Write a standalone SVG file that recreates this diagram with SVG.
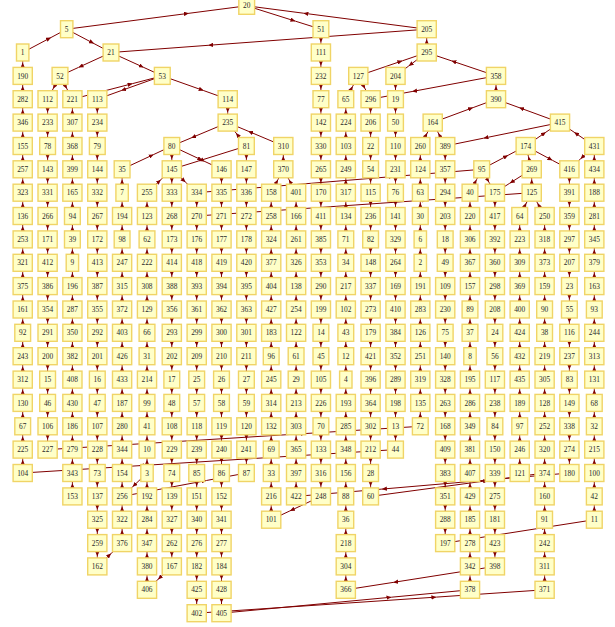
<svg xmlns="http://www.w3.org/2000/svg" width="615" height="627" viewBox="0 0 615 627">
<style>
.e path{fill:none;stroke:#800000;stroke-width:1;marker-mid:url(#ah)}
.n text{font-family:"Liberation Serif","Times New Roman",serif;font-size:7.4px;text-anchor:middle;fill:#2a2a2a}
</style>
<defs>
<marker id="ah" viewBox="0 0 5 4.4" refX="5" refY="2.2" markerWidth="5" markerHeight="4.4" markerUnits="userSpaceOnUse" orient="auto"><path d="M0,0L5,2.2L0,4.4z" fill="#800000"/></marker>
<rect id="b1" x="-6.2" y="-8.5" width="12.4" height="17" fill="#ffffc8" stroke="#f0d466" stroke-width="1.4"/>
<rect id="b2" x="-7.9" y="-8.5" width="15.8" height="17" fill="#ffffc8" stroke="#f0d466" stroke-width="1.4"/>
<rect id="b3" x="-9.6" y="-8.5" width="19.2" height="17" fill="#ffffc8" stroke="#f0d466" stroke-width="1.4"/>
</defs>
<rect width="615" height="627" fill="#fff"/>
<g id="edges" class="e">
<path d="M22.7,52.5L51,37.5L66.7,29.2"/>
<path d="M66.7,29.2L188.9,13.3L246.7,5.8"/>
<path d="M426.7,29.2L303.4,13.2L246.7,5.8"/>
<path d="M246.7,5.8L295.5,21.2L320.9,29.2"/>
<path d="M66.7,29.2L94,43.6L111,52.5"/>
<path d="M426.7,29.2L208.2,45.3L111,52.5"/>
<path d="M426.7,52.5v-13.2v-10.1"/>
<path d="M358.3,75.9L402.4,60.8L426.7,52.5"/>
<path d="M426.7,52.5L408.7,66L395.5,75.9"/>
<path d="M496,75.9L451.4,60.8L426.7,52.5"/>
<path d="M496,75.9L412.1,91.5L370.6,99.2"/>
<path d="M111,52.5L78.5,67.4L60,75.9"/>
<path d="M111,52.5L143.7,67.4L162.3,75.9"/>
<path d="M60,75.9L53.1,88.8L47.6,99.2"/>
<path d="M60,75.9L66.9,88.8L72.4,99.2"/>
<path d="M72.4,99.2L132.6,83.6L162.3,75.9"/>
<path d="M162.3,75.9L121.2,90.6L97.3,99.2"/>
<path d="M162.3,75.9L203.7,90.6L227.7,99.2"/>
<path d="M345.8,99.2L352.7,86.3L358.3,75.9"/>
<path d="M358.3,75.9L365.1,88.8L370.6,99.2"/>
<path d="M496,99.2v-13.2v-10.1"/>
<path d="M432.7,122.6L473.1,107.6L496,99.2"/>
<path d="M560,122.6L519.1,107.6L496,99.2"/>
<path d="M227.7,99.2v13.2v10.2"/>
<path d="M227.7,122.6L191.2,137.9L171.8,146"/>
<path d="M246.4,146L236,133L227.7,122.6"/>
<path d="M283.3,146L248.2,131.2L227.7,122.6"/>
<path d="M420.3,146L427.2,133L432.7,122.6"/>
<path d="M445.2,146L438.3,133L432.7,122.6"/>
<path d="M525.7,146L545.9,132.2L560,122.6"/>
<path d="M594.3,146L574.1,132.2L560,122.6"/>
<path d="M560,122.6L483.5,138.2L445.2,146"/>
<path d="M122.1,169.3L153.7,154.5L171.8,146"/>
<path d="M171.8,146L202.3,160.3L221.5,169.3"/>
<path d="M481.7,169.3L508.1,155.3L525.7,146"/>
<path d="M531.7,169.3L528.4,156.4L525.7,146"/>
<path d="M525.7,146L552.4,160.3L569.4,169.3"/>
<path d="M594.3,146L580.5,158.9L569.4,169.3"/>
<path d="M531.7,169.3L509.8,183.2L494.9,192.7"/>
<path d="M531.7,192.7v-13.2v-10.2"/>
<path d="M470,192.7L476.5,179.7L481.7,169.3"/>
<path d="M481.7,169.3L489,182.3L494.9,192.7"/>
<path d="M519.7,216L526.3,203.1L531.7,192.7"/>
<path d="M544.6,216L537.5,203.1L531.7,192.7"/>
<path d="M147,192.7L160.8,179.7L171.8,169.3"/>
<path d="M171.8,169.3L185.6,182.3L196.7,192.7"/>
<path d="M296.1,192.7L289,179.7L283.3,169.3"/>
<path d="M271.2,192.7L277.9,179.7L283.3,169.3"/>
<path d="M283.3,169.3v-13.2v-10.1"/>
<path d="M246.4,146L198.5,161L171.8,169.3"/>
<path d="M196.7,192.7L393.6,176.5L481.7,169.3"/>
<path d="M196.7,216L427.2,200L531.7,192.7"/>
<path d="M47.6,449.6L305.9,433.5L420.3,426.3"/>
<path d="M395.5,449.6L139,465.7L22.7,473"/>
<path d="M122.1,496.4L206.4,480.5L246.4,473"/>
<path d="M147,473L132.6,486.8L122.1,496.4"/>
<path d="M97.3,566.4L111.1,553.5L122.1,543.1"/>
<path d="M171.8,566.4L158,579.4L147,589.8"/>
<path d="M320.9,496.4L289.9,510.9L271.2,519.7"/>
<path d="M370.6,496.4L488.1,480.6L544.6,473"/>
<path d="M569.4,473L381.9,489.1L296.1,496.4"/>
<path d="M445.2,543.1L546.9,527.1L594.3,519.7"/>
<path d="M494.9,566.4L393.2,582.4L345.8,589.8"/>
<path d="M221.5,613.2L391.5,597.2L470,589.8"/>
<path d="M196.7,613.2L436.4,597.1L544.6,589.8"/>
<path d="M22.7,75.9v-13.2v-10.2"/><path d="M22.7,99.2v-13.2v-10.2"/><path d="M22.7,122.6v-13.2v-10.2"/><path d="M22.7,146v-13.2v-10.2"/><path d="M22.7,169.3v-13.2v-10.2"/><path d="M22.7,192.7v-13.2v-10.2"/><path d="M22.7,216v-13.2v-10.2"/><path d="M22.7,239.4v-13.2v-10.2"/><path d="M22.7,262.8v-13.2v-10.2"/><path d="M22.7,286.1v-13.2v-10.2"/><path d="M22.7,309.5v-13.2v-10.2"/><path d="M22.7,332.8v-13.2v-10.2"/><path d="M22.7,356.2v-13.2v-10.2"/><path d="M22.7,379.6v-13.2v-10.2"/><path d="M22.7,402.9v-13.2v-10.2"/><path d="M22.7,426.3v-13.2v-10.2"/><path d="M22.7,449.6v-13.2v-10.2"/><path d="M22.7,473v-13.2v-10.2"/>
<path d="M47.6,99.2v13.2v10.2"/><path d="M47.6,122.6v13.2v10.2"/><path d="M47.6,146v13.2v10.2"/><path d="M47.6,169.3v13.2v10.2"/><path d="M47.6,192.7v13.2v10.2"/><path d="M47.6,216v13.2v10.2"/><path d="M47.6,239.4v13.2v10.2"/><path d="M47.6,262.8v13.2v10.2"/><path d="M47.6,286.1v13.2v10.2"/><path d="M47.6,309.5v13.2v10.2"/><path d="M47.6,332.8v13.2v10.2"/><path d="M47.6,356.2v13.2v10.2"/><path d="M47.6,379.6v13.2v10.2"/><path d="M47.6,402.9v13.2v10.2"/><path d="M47.6,426.3v13.2v10.2"/>
<path d="M72.4,122.6v-13.2v-10.2"/><path d="M72.4,146v-13.2v-10.2"/><path d="M72.4,169.3v-13.2v-10.2"/><path d="M72.4,192.7v-13.2v-10.2"/><path d="M72.4,216v-13.2v-10.2"/><path d="M72.4,239.4v-13.2v-10.2"/><path d="M72.4,262.8v-13.2v-10.2"/><path d="M72.4,286.1v-13.2v-10.2"/><path d="M72.4,309.5v-13.2v-10.2"/><path d="M72.4,332.8v-13.2v-10.2"/><path d="M72.4,356.2v-13.2v-10.2"/><path d="M72.4,379.6v-13.2v-10.2"/><path d="M72.4,402.9v-13.2v-10.2"/><path d="M72.4,426.3v-13.2v-10.2"/><path d="M72.4,449.6v-13.2v-10.2"/><path d="M72.4,473v-13.2v-10.2"/><path d="M72.4,496.4v-13.2v-10.2"/>
<path d="M97.3,99.2v13.2v10.2"/><path d="M97.3,122.6v13.2v10.2"/><path d="M97.3,146v13.2v10.2"/><path d="M97.3,169.3v13.2v10.2"/><path d="M97.3,192.7v13.2v10.2"/><path d="M97.3,216v13.2v10.2"/><path d="M97.3,239.4v13.2v10.2"/><path d="M97.3,262.8v13.2v10.2"/><path d="M97.3,286.1v13.2v10.2"/><path d="M97.3,309.5v13.2v10.2"/><path d="M97.3,332.8v13.2v10.2"/><path d="M97.3,356.2v13.2v10.2"/><path d="M97.3,379.6v13.2v10.2"/><path d="M97.3,402.9v13.2v10.2"/><path d="M97.3,426.3v13.2v10.2"/><path d="M97.3,449.6v13.2v10.2"/><path d="M97.3,473v13.2v10.2"/><path d="M97.3,496.4v13.2v10.2"/><path d="M97.3,519.7v13.2v10.2"/><path d="M97.3,543.1v13.2v10.2"/>
<path d="M122.1,192.7v-13.2v-10.2"/><path d="M122.1,216v-13.2v-10.2"/><path d="M122.1,239.4v-13.2v-10.2"/><path d="M122.1,262.8v-13.2v-10.2"/><path d="M122.1,286.1v-13.2v-10.2"/><path d="M122.1,309.5v-13.2v-10.2"/><path d="M122.1,332.8v-13.2v-10.2"/><path d="M122.1,356.2v-13.2v-10.2"/><path d="M122.1,379.6v-13.2v-10.2"/><path d="M122.1,402.9v-13.2v-10.2"/><path d="M122.1,426.3v-13.2v-10.2"/><path d="M122.1,449.6v-13.2v-10.2"/><path d="M122.1,473v-13.2v-10.2"/><path d="M122.1,496.4v-13.2v-10.2"/><path d="M122.1,519.7v-13.2v-10.2"/><path d="M122.1,543.1v-13.2v-10.2"/>
<path d="M147,216v-13.2v-10.2"/><path d="M147,239.4v-13.2v-10.2"/><path d="M147,262.8v-13.2v-10.2"/><path d="M147,286.1v-13.2v-10.2"/><path d="M147,309.5v-13.2v-10.2"/><path d="M147,332.8v-13.2v-10.2"/><path d="M147,356.2v-13.2v-10.2"/><path d="M147,379.6v-13.2v-10.2"/><path d="M147,402.9v-13.2v-10.2"/><path d="M147,426.3v-13.2v-10.2"/><path d="M147,449.6v-13.2v-10.2"/><path d="M147,473v-13.2v-10.2"/><path d="M147,496.4v-13.2v-10.2"/><path d="M147,519.7v-13.2v-10.2"/><path d="M147,543.1v-13.2v-10.2"/><path d="M147,566.4v-13.2v-10.2"/><path d="M147,589.8v-13.2v-10.2"/>
<path d="M171.8,146v13.2v10.2"/><path d="M171.8,169.3v13.2v10.2"/><path d="M171.8,192.7v13.2v10.2"/><path d="M171.8,216v13.2v10.2"/><path d="M171.8,239.4v13.2v10.2"/><path d="M171.8,262.8v13.2v10.2"/><path d="M171.8,286.1v13.2v10.2"/><path d="M171.8,309.5v13.2v10.2"/><path d="M171.8,332.8v13.2v10.2"/><path d="M171.8,356.2v13.2v10.2"/><path d="M171.8,379.6v13.2v10.2"/><path d="M171.8,402.9v13.2v10.2"/><path d="M171.8,426.3v13.2v10.2"/><path d="M171.8,449.6v13.2v10.2"/><path d="M171.8,473v13.2v10.2"/><path d="M171.8,496.4v13.2v10.2"/><path d="M171.8,519.7v13.2v10.2"/><path d="M171.8,543.1v13.2v10.2"/>
<path d="M196.7,192.7v13.2v10.2"/><path d="M196.7,216v13.2v10.2"/><path d="M196.7,239.4v13.2v10.2"/><path d="M196.7,262.8v13.2v10.2"/><path d="M196.7,286.1v13.2v10.2"/><path d="M196.7,309.5v13.2v10.2"/><path d="M196.7,332.8v13.2v10.2"/><path d="M196.7,356.2v13.2v10.2"/><path d="M196.7,379.6v13.2v10.2"/><path d="M196.7,402.9v13.2v10.2"/><path d="M196.7,426.3v13.2v10.2"/><path d="M196.7,449.6v13.2v10.2"/><path d="M196.7,473v13.2v10.2"/><path d="M196.7,496.4v13.2v10.2"/><path d="M196.7,519.7v13.2v10.2"/><path d="M196.7,543.1v13.2v10.2"/><path d="M196.7,566.4v13.2v10.2"/><path d="M196.7,589.8v13.2v10.2"/>
<path d="M221.5,169.3v13.2v10.2"/><path d="M221.5,192.7v13.2v10.2"/><path d="M221.5,216v13.2v10.2"/><path d="M221.5,239.4v13.2v10.2"/><path d="M221.5,262.8v13.2v10.2"/><path d="M221.5,286.1v13.2v10.2"/><path d="M221.5,309.5v13.2v10.2"/><path d="M221.5,332.8v13.2v10.2"/><path d="M221.5,356.2v13.2v10.2"/><path d="M221.5,379.6v13.2v10.2"/><path d="M221.5,402.9v13.2v10.2"/><path d="M221.5,426.3v13.2v10.2"/><path d="M221.5,449.6v13.2v10.2"/><path d="M221.5,473v13.2v10.2"/><path d="M221.5,496.4v13.2v10.2"/><path d="M221.5,519.7v13.2v10.2"/><path d="M221.5,543.1v13.2v10.2"/><path d="M221.5,566.4v13.2v10.2"/><path d="M221.5,589.8v13.2v10.2"/>
<path d="M246.4,146v13.2v10.2"/><path d="M246.4,169.3v13.2v10.2"/><path d="M246.4,192.7v13.2v10.2"/><path d="M246.4,216v13.2v10.2"/><path d="M246.4,239.4v13.2v10.2"/><path d="M246.4,262.8v13.2v10.2"/><path d="M246.4,286.1v13.2v10.2"/><path d="M246.4,309.5v13.2v10.2"/><path d="M246.4,332.8v13.2v10.2"/><path d="M246.4,356.2v13.2v10.2"/><path d="M246.4,379.6v13.2v10.2"/><path d="M246.4,402.9v13.2v10.2"/><path d="M246.4,426.3v13.2v10.2"/><path d="M246.4,449.6v13.2v10.2"/>
<path d="M271.2,216v-13.2v-10.2"/><path d="M271.2,239.4v-13.2v-10.2"/><path d="M271.2,262.8v-13.2v-10.2"/><path d="M271.2,286.1v-13.2v-10.2"/><path d="M271.2,309.5v-13.2v-10.2"/><path d="M271.2,332.8v-13.2v-10.2"/><path d="M271.2,356.2v-13.2v-10.2"/><path d="M271.2,379.6v-13.2v-10.2"/><path d="M271.2,402.9v-13.2v-10.2"/><path d="M271.2,426.3v-13.2v-10.2"/><path d="M271.2,449.6v-13.2v-10.2"/><path d="M271.2,473v-13.2v-10.2"/><path d="M271.2,496.4v-13.2v-10.2"/><path d="M271.2,519.7v-13.2v-10.2"/>
<path d="M296.1,216v-13.2v-10.2"/><path d="M296.1,239.4v-13.2v-10.2"/><path d="M296.1,262.8v-13.2v-10.2"/><path d="M296.1,286.1v-13.2v-10.2"/><path d="M296.1,309.5v-13.2v-10.2"/><path d="M296.1,332.8v-13.2v-10.2"/><path d="M296.1,356.2v-13.2v-10.2"/><path d="M296.1,379.6v-13.2v-10.2"/><path d="M296.1,402.9v-13.2v-10.2"/><path d="M296.1,426.3v-13.2v-10.2"/><path d="M296.1,449.6v-13.2v-10.2"/><path d="M296.1,473v-13.2v-10.2"/><path d="M296.1,496.4v-13.2v-10.2"/>
<path d="M320.9,29.2v13.2v10.2"/><path d="M320.9,52.5v13.2v10.2"/><path d="M320.9,75.9v13.2v10.2"/><path d="M320.9,99.2v13.2v10.2"/><path d="M320.9,122.6v13.2v10.2"/><path d="M320.9,146v13.2v10.2"/><path d="M320.9,169.3v13.2v10.2"/><path d="M320.9,192.7v13.2v10.2"/><path d="M320.9,216v13.2v10.2"/><path d="M320.9,239.4v13.2v10.2"/><path d="M320.9,262.8v13.2v10.2"/><path d="M320.9,286.1v13.2v10.2"/><path d="M320.9,309.5v13.2v10.2"/><path d="M320.9,332.8v13.2v10.2"/><path d="M320.9,356.2v13.2v10.2"/><path d="M320.9,379.6v13.2v10.2"/><path d="M320.9,402.9v13.2v10.2"/><path d="M320.9,426.3v13.2v10.2"/><path d="M320.9,449.6v13.2v10.2"/><path d="M320.9,473v13.2v10.2"/>
<path d="M345.8,122.6v-13.2v-10.2"/><path d="M345.8,146v-13.2v-10.2"/><path d="M345.8,169.3v-13.2v-10.2"/><path d="M345.8,192.7v-13.2v-10.2"/><path d="M345.8,216v-13.2v-10.2"/><path d="M345.8,239.4v-13.2v-10.2"/><path d="M345.8,262.8v-13.2v-10.2"/><path d="M345.8,286.1v-13.2v-10.2"/><path d="M345.8,309.5v-13.2v-10.2"/><path d="M345.8,332.8v-13.2v-10.2"/><path d="M345.8,356.2v-13.2v-10.2"/><path d="M345.8,379.6v-13.2v-10.2"/><path d="M345.8,402.9v-13.2v-10.2"/><path d="M345.8,426.3v-13.2v-10.2"/><path d="M345.8,449.6v-13.2v-10.2"/><path d="M345.8,473v-13.2v-10.2"/><path d="M345.8,496.4v-13.2v-10.2"/><path d="M345.8,519.7v-13.2v-10.2"/><path d="M345.8,543.1v-13.2v-10.2"/><path d="M345.8,566.4v-13.2v-10.2"/><path d="M345.8,589.8v-13.2v-10.2"/>
<path d="M370.6,99.2v13.2v10.2"/><path d="M370.6,122.6v13.2v10.2"/><path d="M370.6,146v13.2v10.2"/><path d="M370.6,169.3v13.2v10.2"/><path d="M370.6,192.7v13.2v10.2"/><path d="M370.6,216v13.2v10.2"/><path d="M370.6,239.4v13.2v10.2"/><path d="M370.6,262.8v13.2v10.2"/><path d="M370.6,286.1v13.2v10.2"/><path d="M370.6,309.5v13.2v10.2"/><path d="M370.6,332.8v13.2v10.2"/><path d="M370.6,356.2v13.2v10.2"/><path d="M370.6,379.6v13.2v10.2"/><path d="M370.6,402.9v13.2v10.2"/><path d="M370.6,426.3v13.2v10.2"/><path d="M370.6,449.6v13.2v10.2"/><path d="M370.6,473v13.2v10.2"/>
<path d="M395.5,75.9v13.2v10.2"/><path d="M395.5,99.2v13.2v10.2"/><path d="M395.5,122.6v13.2v10.2"/><path d="M395.5,146v13.2v10.2"/><path d="M395.5,169.3v13.2v10.2"/><path d="M395.5,192.7v13.2v10.2"/><path d="M395.5,216v13.2v10.2"/><path d="M395.5,239.4v13.2v10.2"/><path d="M395.5,262.8v13.2v10.2"/><path d="M395.5,286.1v13.2v10.2"/><path d="M395.5,309.5v13.2v10.2"/><path d="M395.5,332.8v13.2v10.2"/><path d="M395.5,356.2v13.2v10.2"/><path d="M395.5,379.6v13.2v10.2"/><path d="M395.5,402.9v13.2v10.2"/><path d="M395.5,426.3v13.2v10.2"/>
<path d="M420.3,169.3v-13.2v-10.2"/><path d="M420.3,192.7v-13.2v-10.2"/><path d="M420.3,216v-13.2v-10.2"/><path d="M420.3,239.4v-13.2v-10.2"/><path d="M420.3,262.8v-13.2v-10.2"/><path d="M420.3,286.1v-13.2v-10.2"/><path d="M420.3,309.5v-13.2v-10.2"/><path d="M420.3,332.8v-13.2v-10.2"/><path d="M420.3,356.2v-13.2v-10.2"/><path d="M420.3,379.6v-13.2v-10.2"/><path d="M420.3,402.9v-13.2v-10.2"/><path d="M420.3,426.3v-13.2v-10.2"/>
<path d="M445.2,146v13.2v10.2"/><path d="M445.2,169.3v13.2v10.2"/><path d="M445.2,192.7v13.2v10.2"/><path d="M445.2,216v13.2v10.2"/><path d="M445.2,239.4v13.2v10.2"/><path d="M445.2,262.8v13.2v10.2"/><path d="M445.2,286.1v13.2v10.2"/><path d="M445.2,309.5v13.2v10.2"/><path d="M445.2,332.8v13.2v10.2"/><path d="M445.2,356.2v13.2v10.2"/><path d="M445.2,379.6v13.2v10.2"/><path d="M445.2,402.9v13.2v10.2"/><path d="M445.2,426.3v13.2v10.2"/><path d="M445.2,449.6v13.2v10.2"/><path d="M445.2,473v13.2v10.2"/><path d="M445.2,496.4v13.2v10.2"/><path d="M445.2,519.7v13.2v10.2"/>
<path d="M470,216v-13.2v-10.2"/><path d="M470,239.4v-13.2v-10.2"/><path d="M470,262.8v-13.2v-10.2"/><path d="M470,286.1v-13.2v-10.2"/><path d="M470,309.5v-13.2v-10.2"/><path d="M470,332.8v-13.2v-10.2"/><path d="M470,356.2v-13.2v-10.2"/><path d="M470,379.6v-13.2v-10.2"/><path d="M470,402.9v-13.2v-10.2"/><path d="M470,426.3v-13.2v-10.2"/><path d="M470,449.6v-13.2v-10.2"/><path d="M470,473v-13.2v-10.2"/><path d="M470,496.4v-13.2v-10.2"/><path d="M470,519.7v-13.2v-10.2"/><path d="M470,543.1v-13.2v-10.2"/><path d="M470,566.4v-13.2v-10.2"/><path d="M470,589.8v-13.2v-10.2"/>
<path d="M494.9,192.7v13.2v10.2"/><path d="M494.9,216v13.2v10.2"/><path d="M494.9,239.4v13.2v10.2"/><path d="M494.9,262.8v13.2v10.2"/><path d="M494.9,286.1v13.2v10.2"/><path d="M494.9,309.5v13.2v10.2"/><path d="M494.9,332.8v13.2v10.2"/><path d="M494.9,356.2v13.2v10.2"/><path d="M494.9,379.6v13.2v10.2"/><path d="M494.9,402.9v13.2v10.2"/><path d="M494.9,426.3v13.2v10.2"/><path d="M494.9,449.6v13.2v10.2"/><path d="M494.9,473v13.2v10.2"/><path d="M494.9,496.4v13.2v10.2"/><path d="M494.9,519.7v13.2v10.2"/><path d="M494.9,543.1v13.2v10.2"/>
<path d="M519.7,239.4v-13.2v-10.2"/><path d="M519.7,262.8v-13.2v-10.2"/><path d="M519.7,286.1v-13.2v-10.2"/><path d="M519.7,309.5v-13.2v-10.2"/><path d="M519.7,332.8v-13.2v-10.2"/><path d="M519.7,356.2v-13.2v-10.2"/><path d="M519.7,379.6v-13.2v-10.2"/><path d="M519.7,402.9v-13.2v-10.2"/><path d="M519.7,426.3v-13.2v-10.2"/><path d="M519.7,449.6v-13.2v-10.2"/><path d="M519.7,473v-13.2v-10.2"/>
<path d="M544.6,239.4v-13.2v-10.2"/><path d="M544.6,262.8v-13.2v-10.2"/><path d="M544.6,286.1v-13.2v-10.2"/><path d="M544.6,309.5v-13.2v-10.2"/><path d="M544.6,332.8v-13.2v-10.2"/><path d="M544.6,356.2v-13.2v-10.2"/><path d="M544.6,379.6v-13.2v-10.2"/><path d="M544.6,402.9v-13.2v-10.2"/><path d="M544.6,426.3v-13.2v-10.2"/><path d="M544.6,449.6v-13.2v-10.2"/><path d="M544.6,473v-13.2v-10.2"/><path d="M544.6,496.4v-13.2v-10.2"/><path d="M544.6,519.7v-13.2v-10.2"/><path d="M544.6,543.1v-13.2v-10.2"/><path d="M544.6,566.4v-13.2v-10.2"/><path d="M544.6,589.8v-13.2v-10.2"/>
<path d="M569.4,169.3v13.2v10.2"/><path d="M569.4,192.7v13.2v10.2"/><path d="M569.4,216v13.2v10.2"/><path d="M569.4,239.4v13.2v10.2"/><path d="M569.4,262.8v13.2v10.2"/><path d="M569.4,286.1v13.2v10.2"/><path d="M569.4,309.5v13.2v10.2"/><path d="M569.4,332.8v13.2v10.2"/><path d="M569.4,356.2v13.2v10.2"/><path d="M569.4,379.6v13.2v10.2"/><path d="M569.4,402.9v13.2v10.2"/><path d="M569.4,426.3v13.2v10.2"/><path d="M569.4,449.6v13.2v10.2"/>
<path d="M594.3,169.3v-13.2v-10.2"/><path d="M594.3,192.7v-13.2v-10.2"/><path d="M594.3,216v-13.2v-10.2"/><path d="M594.3,239.4v-13.2v-10.2"/><path d="M594.3,262.8v-13.2v-10.2"/><path d="M594.3,286.1v-13.2v-10.2"/><path d="M594.3,309.5v-13.2v-10.2"/><path d="M594.3,332.8v-13.2v-10.2"/><path d="M594.3,356.2v-13.2v-10.2"/><path d="M594.3,379.6v-13.2v-10.2"/><path d="M594.3,402.9v-13.2v-10.2"/><path d="M594.3,426.3v-13.2v-10.2"/><path d="M594.3,449.6v-13.2v-10.2"/><path d="M594.3,473v-13.2v-10.2"/><path d="M594.3,496.4v-13.2v-10.2"/><path d="M594.3,519.7v-13.2v-10.2"/>
</g>
<g id="nodes" class="n">
<g id="n20" transform="translate(246.7 5.8)"><use href="#b2"/><text y="2.6">20</text></g>
<g id="n5" transform="translate(66.7 29.2)"><use href="#b1"/><text y="2.6">5</text></g>
<g id="n51" transform="translate(320.9 29.2)"><use href="#b2"/><text y="2.6">51</text></g>
<g id="n205" transform="translate(426.7 29.2)"><use href="#b3"/><text y="2.6">205</text></g>
<g id="n1" transform="translate(22.7 52.5)"><use href="#b1"/><text y="2.6">1</text></g>
<g id="n21" transform="translate(111 52.5)"><use href="#b2"/><text y="2.6">21</text></g>
<g id="n111" transform="translate(320.9 52.5)"><use href="#b3"/><text y="2.6">111</text></g>
<g id="n295" transform="translate(426.7 52.5)"><use href="#b3"/><text y="2.6">295</text></g>
<g id="n190" transform="translate(22.7 75.9)"><use href="#b3"/><text y="2.6">190</text></g>
<g id="n52" transform="translate(60 75.9)"><use href="#b2"/><text y="2.6">52</text></g>
<g id="n53" transform="translate(162.3 75.9)"><use href="#b2"/><text y="2.6">53</text></g>
<g id="n232" transform="translate(320.9 75.9)"><use href="#b3"/><text y="2.6">232</text></g>
<g id="n127" transform="translate(358.3 75.9)"><use href="#b3"/><text y="2.6">127</text></g>
<g id="n204" transform="translate(395.5 75.9)"><use href="#b3"/><text y="2.6">204</text></g>
<g id="n358" transform="translate(496 75.9)"><use href="#b3"/><text y="2.6">358</text></g>
<g id="n282" transform="translate(22.7 99.2)"><use href="#b3"/><text y="2.6">282</text></g>
<g id="n112" transform="translate(47.6 99.2)"><use href="#b3"/><text y="2.6">112</text></g>
<g id="n221" transform="translate(72.4 99.2)"><use href="#b3"/><text y="2.6">221</text></g>
<g id="n113" transform="translate(97.3 99.2)"><use href="#b3"/><text y="2.6">113</text></g>
<g id="n114" transform="translate(227.7 99.2)"><use href="#b3"/><text y="2.6">114</text></g>
<g id="n77" transform="translate(320.9 99.2)"><use href="#b2"/><text y="2.6">77</text></g>
<g id="n65" transform="translate(345.8 99.2)"><use href="#b2"/><text y="2.6">65</text></g>
<g id="n296" transform="translate(370.6 99.2)"><use href="#b3"/><text y="2.6">296</text></g>
<g id="n19" transform="translate(395.5 99.2)"><use href="#b2"/><text y="2.6">19</text></g>
<g id="n390" transform="translate(496 99.2)"><use href="#b3"/><text y="2.6">390</text></g>
<g id="n346" transform="translate(22.7 122.6)"><use href="#b3"/><text y="2.6">346</text></g>
<g id="n233" transform="translate(47.6 122.6)"><use href="#b3"/><text y="2.6">233</text></g>
<g id="n307" transform="translate(72.4 122.6)"><use href="#b3"/><text y="2.6">307</text></g>
<g id="n234" transform="translate(97.3 122.6)"><use href="#b3"/><text y="2.6">234</text></g>
<g id="n235" transform="translate(227.7 122.6)"><use href="#b3"/><text y="2.6">235</text></g>
<g id="n142" transform="translate(320.9 122.6)"><use href="#b3"/><text y="2.6">142</text></g>
<g id="n224" transform="translate(345.8 122.6)"><use href="#b3"/><text y="2.6">224</text></g>
<g id="n206" transform="translate(370.6 122.6)"><use href="#b3"/><text y="2.6">206</text></g>
<g id="n50" transform="translate(395.5 122.6)"><use href="#b2"/><text y="2.6">50</text></g>
<g id="n164" transform="translate(432.7 122.6)"><use href="#b3"/><text y="2.6">164</text></g>
<g id="n415" transform="translate(560 122.6)"><use href="#b3"/><text y="2.6">415</text></g>
<g id="n155" transform="translate(22.7 146)"><use href="#b3"/><text y="2.6">155</text></g>
<g id="n78" transform="translate(47.6 146)"><use href="#b2"/><text y="2.6">78</text></g>
<g id="n368" transform="translate(72.4 146)"><use href="#b3"/><text y="2.6">368</text></g>
<g id="n79" transform="translate(97.3 146)"><use href="#b2"/><text y="2.6">79</text></g>
<g id="n80" transform="translate(171.8 146)"><use href="#b2"/><text y="2.6">80</text></g>
<g id="n81" transform="translate(246.4 146)"><use href="#b2"/><text y="2.6">81</text></g>
<g id="n310" transform="translate(283.3 146)"><use href="#b3"/><text y="2.6">310</text></g>
<g id="n330" transform="translate(320.9 146)"><use href="#b3"/><text y="2.6">330</text></g>
<g id="n103" transform="translate(345.8 146)"><use href="#b3"/><text y="2.6">103</text></g>
<g id="n22" transform="translate(370.6 146)"><use href="#b2"/><text y="2.6">22</text></g>
<g id="n110" transform="translate(395.5 146)"><use href="#b3"/><text y="2.6">110</text></g>
<g id="n260" transform="translate(420.3 146)"><use href="#b3"/><text y="2.6">260</text></g>
<g id="n389" transform="translate(445.2 146)"><use href="#b3"/><text y="2.6">389</text></g>
<g id="n174" transform="translate(525.7 146)"><use href="#b3"/><text y="2.6">174</text></g>
<g id="n431" transform="translate(594.3 146)"><use href="#b3"/><text y="2.6">431</text></g>
<g id="n257" transform="translate(22.7 169.3)"><use href="#b3"/><text y="2.6">257</text></g>
<g id="n143" transform="translate(47.6 169.3)"><use href="#b3"/><text y="2.6">143</text></g>
<g id="n399" transform="translate(72.4 169.3)"><use href="#b3"/><text y="2.6">399</text></g>
<g id="n144" transform="translate(97.3 169.3)"><use href="#b3"/><text y="2.6">144</text></g>
<g id="n35" transform="translate(122.1 169.3)"><use href="#b2"/><text y="2.6">35</text></g>
<g id="n145" transform="translate(171.8 169.3)"><use href="#b3"/><text y="2.6">145</text></g>
<g id="n146" transform="translate(221.5 169.3)"><use href="#b3"/><text y="2.6">146</text></g>
<g id="n147" transform="translate(246.4 169.3)"><use href="#b3"/><text y="2.6">147</text></g>
<g id="n370" transform="translate(283.3 169.3)"><use href="#b3"/><text y="2.6">370</text></g>
<g id="n265" transform="translate(320.9 169.3)"><use href="#b3"/><text y="2.6">265</text></g>
<g id="n249" transform="translate(345.8 169.3)"><use href="#b3"/><text y="2.6">249</text></g>
<g id="n54" transform="translate(370.6 169.3)"><use href="#b2"/><text y="2.6">54</text></g>
<g id="n231" transform="translate(395.5 169.3)"><use href="#b3"/><text y="2.6">231</text></g>
<g id="n124" transform="translate(420.3 169.3)"><use href="#b3"/><text y="2.6">124</text></g>
<g id="n357" transform="translate(445.2 169.3)"><use href="#b3"/><text y="2.6">357</text></g>
<g id="n95" transform="translate(481.7 169.3)"><use href="#b2"/><text y="2.6">95</text></g>
<g id="n269" transform="translate(531.7 169.3)"><use href="#b3"/><text y="2.6">269</text></g>
<g id="n416" transform="translate(569.4 169.3)"><use href="#b3"/><text y="2.6">416</text></g>
<g id="n434" transform="translate(594.3 169.3)"><use href="#b3"/><text y="2.6">434</text></g>
<g id="n323" transform="translate(22.7 192.7)"><use href="#b3"/><text y="2.6">323</text></g>
<g id="n331" transform="translate(47.6 192.7)"><use href="#b3"/><text y="2.6">331</text></g>
<g id="n165" transform="translate(72.4 192.7)"><use href="#b3"/><text y="2.6">165</text></g>
<g id="n332" transform="translate(97.3 192.7)"><use href="#b3"/><text y="2.6">332</text></g>
<g id="n7" transform="translate(122.1 192.7)"><use href="#b1"/><text y="2.6">7</text></g>
<g id="n255" transform="translate(147 192.7)"><use href="#b3"/><text y="2.6">255</text></g>
<g id="n333" transform="translate(171.8 192.7)"><use href="#b3"/><text y="2.6">333</text></g>
<g id="n334" transform="translate(196.7 192.7)"><use href="#b3"/><text y="2.6">334</text></g>
<g id="n335" transform="translate(221.5 192.7)"><use href="#b3"/><text y="2.6">335</text></g>
<g id="n336" transform="translate(246.4 192.7)"><use href="#b3"/><text y="2.6">336</text></g>
<g id="n158" transform="translate(271.2 192.7)"><use href="#b3"/><text y="2.6">158</text></g>
<g id="n401" transform="translate(296.1 192.7)"><use href="#b3"/><text y="2.6">401</text></g>
<g id="n170" transform="translate(320.9 192.7)"><use href="#b3"/><text y="2.6">170</text></g>
<g id="n317" transform="translate(345.8 192.7)"><use href="#b3"/><text y="2.6">317</text></g>
<g id="n115" transform="translate(370.6 192.7)"><use href="#b3"/><text y="2.6">115</text></g>
<g id="n76" transform="translate(395.5 192.7)"><use href="#b2"/><text y="2.6">76</text></g>
<g id="n63" transform="translate(420.3 192.7)"><use href="#b2"/><text y="2.6">63</text></g>
<g id="n294" transform="translate(445.2 192.7)"><use href="#b3"/><text y="2.6">294</text></g>
<g id="n40" transform="translate(470 192.7)"><use href="#b2"/><text y="2.6">40</text></g>
<g id="n175" transform="translate(494.9 192.7)"><use href="#b3"/><text y="2.6">175</text></g>
<g id="n125" transform="translate(531.7 192.7)"><use href="#b3"/><text y="2.6">125</text></g>
<g id="n391" transform="translate(569.4 192.7)"><use href="#b3"/><text y="2.6">391</text></g>
<g id="n188" transform="translate(594.3 192.7)"><use href="#b3"/><text y="2.6">188</text></g>
<g id="n136" transform="translate(22.7 216)"><use href="#b3"/><text y="2.6">136</text></g>
<g id="n266" transform="translate(47.6 216)"><use href="#b3"/><text y="2.6">266</text></g>
<g id="n94" transform="translate(72.4 216)"><use href="#b2"/><text y="2.6">94</text></g>
<g id="n267" transform="translate(97.3 216)"><use href="#b3"/><text y="2.6">267</text></g>
<g id="n194" transform="translate(122.1 216)"><use href="#b3"/><text y="2.6">194</text></g>
<g id="n123" transform="translate(147 216)"><use href="#b3"/><text y="2.6">123</text></g>
<g id="n268" transform="translate(171.8 216)"><use href="#b3"/><text y="2.6">268</text></g>
<g id="n270" transform="translate(196.7 216)"><use href="#b3"/><text y="2.6">270</text></g>
<g id="n271" transform="translate(221.5 216)"><use href="#b3"/><text y="2.6">271</text></g>
<g id="n272" transform="translate(246.4 216)"><use href="#b3"/><text y="2.6">272</text></g>
<g id="n258" transform="translate(271.2 216)"><use href="#b3"/><text y="2.6">258</text></g>
<g id="n166" transform="translate(296.1 216)"><use href="#b3"/><text y="2.6">166</text></g>
<g id="n411" transform="translate(320.9 216)"><use href="#b3"/><text y="2.6">411</text></g>
<g id="n134" transform="translate(345.8 216)"><use href="#b3"/><text y="2.6">134</text></g>
<g id="n236" transform="translate(370.6 216)"><use href="#b3"/><text y="2.6">236</text></g>
<g id="n141" transform="translate(395.5 216)"><use href="#b3"/><text y="2.6">141</text></g>
<g id="n30" transform="translate(420.3 216)"><use href="#b2"/><text y="2.6">30</text></g>
<g id="n203" transform="translate(445.2 216)"><use href="#b3"/><text y="2.6">203</text></g>
<g id="n220" transform="translate(470 216)"><use href="#b3"/><text y="2.6">220</text></g>
<g id="n417" transform="translate(494.9 216)"><use href="#b3"/><text y="2.6">417</text></g>
<g id="n64" transform="translate(519.7 216)"><use href="#b2"/><text y="2.6">64</text></g>
<g id="n250" transform="translate(544.6 216)"><use href="#b3"/><text y="2.6">250</text></g>
<g id="n359" transform="translate(569.4 216)"><use href="#b3"/><text y="2.6">359</text></g>
<g id="n281" transform="translate(594.3 216)"><use href="#b3"/><text y="2.6">281</text></g>
<g id="n253" transform="translate(22.7 239.4)"><use href="#b3"/><text y="2.6">253</text></g>
<g id="n171" transform="translate(47.6 239.4)"><use href="#b3"/><text y="2.6">171</text></g>
<g id="n39" transform="translate(72.4 239.4)"><use href="#b2"/><text y="2.6">39</text></g>
<g id="n172" transform="translate(97.3 239.4)"><use href="#b3"/><text y="2.6">172</text></g>
<g id="n98" transform="translate(122.1 239.4)"><use href="#b2"/><text y="2.6">98</text></g>
<g id="n62" transform="translate(147 239.4)"><use href="#b2"/><text y="2.6">62</text></g>
<g id="n173" transform="translate(171.8 239.4)"><use href="#b3"/><text y="2.6">173</text></g>
<g id="n176" transform="translate(196.7 239.4)"><use href="#b3"/><text y="2.6">176</text></g>
<g id="n177" transform="translate(221.5 239.4)"><use href="#b3"/><text y="2.6">177</text></g>
<g id="n178" transform="translate(246.4 239.4)"><use href="#b3"/><text y="2.6">178</text></g>
<g id="n324" transform="translate(271.2 239.4)"><use href="#b3"/><text y="2.6">324</text></g>
<g id="n261" transform="translate(296.1 239.4)"><use href="#b3"/><text y="2.6">261</text></g>
<g id="n385" transform="translate(320.9 239.4)"><use href="#b3"/><text y="2.6">385</text></g>
<g id="n71" transform="translate(345.8 239.4)"><use href="#b2"/><text y="2.6">71</text></g>
<g id="n82" transform="translate(370.6 239.4)"><use href="#b2"/><text y="2.6">82</text></g>
<g id="n329" transform="translate(395.5 239.4)"><use href="#b3"/><text y="2.6">329</text></g>
<g id="n6" transform="translate(420.3 239.4)"><use href="#b1"/><text y="2.6">6</text></g>
<g id="n18" transform="translate(445.2 239.4)"><use href="#b2"/><text y="2.6">18</text></g>
<g id="n306" transform="translate(470 239.4)"><use href="#b3"/><text y="2.6">306</text></g>
<g id="n392" transform="translate(494.9 239.4)"><use href="#b3"/><text y="2.6">392</text></g>
<g id="n223" transform="translate(519.7 239.4)"><use href="#b3"/><text y="2.6">223</text></g>
<g id="n318" transform="translate(544.6 239.4)"><use href="#b3"/><text y="2.6">318</text></g>
<g id="n297" transform="translate(569.4 239.4)"><use href="#b3"/><text y="2.6">297</text></g>
<g id="n345" transform="translate(594.3 239.4)"><use href="#b3"/><text y="2.6">345</text></g>
<g id="n321" transform="translate(22.7 262.8)"><use href="#b3"/><text y="2.6">321</text></g>
<g id="n412" transform="translate(47.6 262.8)"><use href="#b3"/><text y="2.6">412</text></g>
<g id="n9" transform="translate(72.4 262.8)"><use href="#b1"/><text y="2.6">9</text></g>
<g id="n413" transform="translate(97.3 262.8)"><use href="#b3"/><text y="2.6">413</text></g>
<g id="n247" transform="translate(122.1 262.8)"><use href="#b3"/><text y="2.6">247</text></g>
<g id="n222" transform="translate(147 262.8)"><use href="#b3"/><text y="2.6">222</text></g>
<g id="n414" transform="translate(171.8 262.8)"><use href="#b3"/><text y="2.6">414</text></g>
<g id="n418" transform="translate(196.7 262.8)"><use href="#b3"/><text y="2.6">418</text></g>
<g id="n419" transform="translate(221.5 262.8)"><use href="#b3"/><text y="2.6">419</text></g>
<g id="n420" transform="translate(246.4 262.8)"><use href="#b3"/><text y="2.6">420</text></g>
<g id="n377" transform="translate(271.2 262.8)"><use href="#b3"/><text y="2.6">377</text></g>
<g id="n326" transform="translate(296.1 262.8)"><use href="#b3"/><text y="2.6">326</text></g>
<g id="n353" transform="translate(320.9 262.8)"><use href="#b3"/><text y="2.6">353</text></g>
<g id="n34" transform="translate(345.8 262.8)"><use href="#b2"/><text y="2.6">34</text></g>
<g id="n148" transform="translate(370.6 262.8)"><use href="#b3"/><text y="2.6">148</text></g>
<g id="n264" transform="translate(395.5 262.8)"><use href="#b3"/><text y="2.6">264</text></g>
<g id="n2" transform="translate(420.3 262.8)"><use href="#b1"/><text y="2.6">2</text></g>
<g id="n49" transform="translate(445.2 262.8)"><use href="#b2"/><text y="2.6">49</text></g>
<g id="n367" transform="translate(470 262.8)"><use href="#b3"/><text y="2.6">367</text></g>
<g id="n360" transform="translate(494.9 262.8)"><use href="#b3"/><text y="2.6">360</text></g>
<g id="n309" transform="translate(519.7 262.8)"><use href="#b3"/><text y="2.6">309</text></g>
<g id="n373" transform="translate(544.6 262.8)"><use href="#b3"/><text y="2.6">373</text></g>
<g id="n207" transform="translate(569.4 262.8)"><use href="#b3"/><text y="2.6">207</text></g>
<g id="n379" transform="translate(594.3 262.8)"><use href="#b3"/><text y="2.6">379</text></g>
<g id="n375" transform="translate(22.7 286.1)"><use href="#b3"/><text y="2.6">375</text></g>
<g id="n386" transform="translate(47.6 286.1)"><use href="#b3"/><text y="2.6">386</text></g>
<g id="n196" transform="translate(72.4 286.1)"><use href="#b3"/><text y="2.6">196</text></g>
<g id="n387" transform="translate(97.3 286.1)"><use href="#b3"/><text y="2.6">387</text></g>
<g id="n315" transform="translate(122.1 286.1)"><use href="#b3"/><text y="2.6">315</text></g>
<g id="n308" transform="translate(147 286.1)"><use href="#b3"/><text y="2.6">308</text></g>
<g id="n388" transform="translate(171.8 286.1)"><use href="#b3"/><text y="2.6">388</text></g>
<g id="n393" transform="translate(196.7 286.1)"><use href="#b3"/><text y="2.6">393</text></g>
<g id="n394" transform="translate(221.5 286.1)"><use href="#b3"/><text y="2.6">394</text></g>
<g id="n395" transform="translate(246.4 286.1)"><use href="#b3"/><text y="2.6">395</text></g>
<g id="n404" transform="translate(271.2 286.1)"><use href="#b3"/><text y="2.6">404</text></g>
<g id="n138" transform="translate(296.1 286.1)"><use href="#b3"/><text y="2.6">138</text></g>
<g id="n290" transform="translate(320.9 286.1)"><use href="#b3"/><text y="2.6">290</text></g>
<g id="n217" transform="translate(345.8 286.1)"><use href="#b3"/><text y="2.6">217</text></g>
<g id="n337" transform="translate(370.6 286.1)"><use href="#b3"/><text y="2.6">337</text></g>
<g id="n169" transform="translate(395.5 286.1)"><use href="#b3"/><text y="2.6">169</text></g>
<g id="n191" transform="translate(420.3 286.1)"><use href="#b3"/><text y="2.6">191</text></g>
<g id="n109" transform="translate(445.2 286.1)"><use href="#b3"/><text y="2.6">109</text></g>
<g id="n157" transform="translate(470 286.1)"><use href="#b3"/><text y="2.6">157</text></g>
<g id="n298" transform="translate(494.9 286.1)"><use href="#b3"/><text y="2.6">298</text></g>
<g id="n369" transform="translate(519.7 286.1)"><use href="#b3"/><text y="2.6">369</text></g>
<g id="n159" transform="translate(544.6 286.1)"><use href="#b3"/><text y="2.6">159</text></g>
<g id="n23" transform="translate(569.4 286.1)"><use href="#b2"/><text y="2.6">23</text></g>
<g id="n163" transform="translate(594.3 286.1)"><use href="#b3"/><text y="2.6">163</text></g>
<g id="n161" transform="translate(22.7 309.5)"><use href="#b3"/><text y="2.6">161</text></g>
<g id="n354" transform="translate(47.6 309.5)"><use href="#b3"/><text y="2.6">354</text></g>
<g id="n287" transform="translate(72.4 309.5)"><use href="#b3"/><text y="2.6">287</text></g>
<g id="n355" transform="translate(97.3 309.5)"><use href="#b3"/><text y="2.6">355</text></g>
<g id="n372" transform="translate(122.1 309.5)"><use href="#b3"/><text y="2.6">372</text></g>
<g id="n129" transform="translate(147 309.5)"><use href="#b3"/><text y="2.6">129</text></g>
<g id="n356" transform="translate(171.8 309.5)"><use href="#b3"/><text y="2.6">356</text></g>
<g id="n361" transform="translate(196.7 309.5)"><use href="#b3"/><text y="2.6">361</text></g>
<g id="n362" transform="translate(221.5 309.5)"><use href="#b3"/><text y="2.6">362</text></g>
<g id="n363" transform="translate(246.4 309.5)"><use href="#b3"/><text y="2.6">363</text></g>
<g id="n427" transform="translate(271.2 309.5)"><use href="#b3"/><text y="2.6">427</text></g>
<g id="n254" transform="translate(296.1 309.5)"><use href="#b3"/><text y="2.6">254</text></g>
<g id="n199" transform="translate(320.9 309.5)"><use href="#b3"/><text y="2.6">199</text></g>
<g id="n102" transform="translate(345.8 309.5)"><use href="#b3"/><text y="2.6">102</text></g>
<g id="n273" transform="translate(370.6 309.5)"><use href="#b3"/><text y="2.6">273</text></g>
<g id="n410" transform="translate(395.5 309.5)"><use href="#b3"/><text y="2.6">410</text></g>
<g id="n283" transform="translate(420.3 309.5)"><use href="#b3"/><text y="2.6">283</text></g>
<g id="n230" transform="translate(445.2 309.5)"><use href="#b3"/><text y="2.6">230</text></g>
<g id="n89" transform="translate(470 309.5)"><use href="#b2"/><text y="2.6">89</text></g>
<g id="n208" transform="translate(494.9 309.5)"><use href="#b3"/><text y="2.6">208</text></g>
<g id="n400" transform="translate(519.7 309.5)"><use href="#b3"/><text y="2.6">400</text></g>
<g id="n90" transform="translate(544.6 309.5)"><use href="#b2"/><text y="2.6">90</text></g>
<g id="n55" transform="translate(569.4 309.5)"><use href="#b2"/><text y="2.6">55</text></g>
<g id="n93" transform="translate(594.3 309.5)"><use href="#b2"/><text y="2.6">93</text></g>
<g id="n92" transform="translate(22.7 332.8)"><use href="#b2"/><text y="2.6">92</text></g>
<g id="n291" transform="translate(47.6 332.8)"><use href="#b3"/><text y="2.6">291</text></g>
<g id="n350" transform="translate(72.4 332.8)"><use href="#b3"/><text y="2.6">350</text></g>
<g id="n292" transform="translate(97.3 332.8)"><use href="#b3"/><text y="2.6">292</text></g>
<g id="n403" transform="translate(122.1 332.8)"><use href="#b3"/><text y="2.6">403</text></g>
<g id="n66" transform="translate(147 332.8)"><use href="#b2"/><text y="2.6">66</text></g>
<g id="n293" transform="translate(171.8 332.8)"><use href="#b3"/><text y="2.6">293</text></g>
<g id="n299" transform="translate(196.7 332.8)"><use href="#b3"/><text y="2.6">299</text></g>
<g id="n300" transform="translate(221.5 332.8)"><use href="#b3"/><text y="2.6">300</text></g>
<g id="n301" transform="translate(246.4 332.8)"><use href="#b3"/><text y="2.6">301</text></g>
<g id="n183" transform="translate(271.2 332.8)"><use href="#b3"/><text y="2.6">183</text></g>
<g id="n122" transform="translate(296.1 332.8)"><use href="#b3"/><text y="2.6">122</text></g>
<g id="n14" transform="translate(320.9 332.8)"><use href="#b2"/><text y="2.6">14</text></g>
<g id="n43" transform="translate(345.8 332.8)"><use href="#b2"/><text y="2.6">43</text></g>
<g id="n179" transform="translate(370.6 332.8)"><use href="#b3"/><text y="2.6">179</text></g>
<g id="n384" transform="translate(395.5 332.8)"><use href="#b3"/><text y="2.6">384</text></g>
<g id="n126" transform="translate(420.3 332.8)"><use href="#b3"/><text y="2.6">126</text></g>
<g id="n75" transform="translate(445.2 332.8)"><use href="#b2"/><text y="2.6">75</text></g>
<g id="n37" transform="translate(470 332.8)"><use href="#b2"/><text y="2.6">37</text></g>
<g id="n24" transform="translate(494.9 332.8)"><use href="#b2"/><text y="2.6">24</text></g>
<g id="n424" transform="translate(519.7 332.8)"><use href="#b3"/><text y="2.6">424</text></g>
<g id="n38" transform="translate(544.6 332.8)"><use href="#b2"/><text y="2.6">38</text></g>
<g id="n116" transform="translate(569.4 332.8)"><use href="#b3"/><text y="2.6">116</text></g>
<g id="n244" transform="translate(594.3 332.8)"><use href="#b3"/><text y="2.6">244</text></g>
<g id="n243" transform="translate(22.7 356.2)"><use href="#b3"/><text y="2.6">243</text></g>
<g id="n200" transform="translate(47.6 356.2)"><use href="#b3"/><text y="2.6">200</text></g>
<g id="n382" transform="translate(72.4 356.2)"><use href="#b3"/><text y="2.6">382</text></g>
<g id="n201" transform="translate(97.3 356.2)"><use href="#b3"/><text y="2.6">201</text></g>
<g id="n426" transform="translate(122.1 356.2)"><use href="#b3"/><text y="2.6">426</text></g>
<g id="n31" transform="translate(147 356.2)"><use href="#b2"/><text y="2.6">31</text></g>
<g id="n202" transform="translate(171.8 356.2)"><use href="#b3"/><text y="2.6">202</text></g>
<g id="n209" transform="translate(196.7 356.2)"><use href="#b3"/><text y="2.6">209</text></g>
<g id="n210" transform="translate(221.5 356.2)"><use href="#b3"/><text y="2.6">210</text></g>
<g id="n211" transform="translate(246.4 356.2)"><use href="#b3"/><text y="2.6">211</text></g>
<g id="n96" transform="translate(271.2 356.2)"><use href="#b2"/><text y="2.6">96</text></g>
<g id="n61" transform="translate(296.1 356.2)"><use href="#b2"/><text y="2.6">61</text></g>
<g id="n45" transform="translate(320.9 356.2)"><use href="#b2"/><text y="2.6">45</text></g>
<g id="n12" transform="translate(345.8 356.2)"><use href="#b2"/><text y="2.6">12</text></g>
<g id="n421" transform="translate(370.6 356.2)"><use href="#b3"/><text y="2.6">421</text></g>
<g id="n352" transform="translate(395.5 356.2)"><use href="#b3"/><text y="2.6">352</text></g>
<g id="n251" transform="translate(420.3 356.2)"><use href="#b3"/><text y="2.6">251</text></g>
<g id="n140" transform="translate(445.2 356.2)"><use href="#b3"/><text y="2.6">140</text></g>
<g id="n8" transform="translate(470 356.2)"><use href="#b1"/><text y="2.6">8</text></g>
<g id="n56" transform="translate(494.9 356.2)"><use href="#b2"/><text y="2.6">56</text></g>
<g id="n432" transform="translate(519.7 356.2)"><use href="#b3"/><text y="2.6">432</text></g>
<g id="n219" transform="translate(544.6 356.2)"><use href="#b3"/><text y="2.6">219</text></g>
<g id="n237" transform="translate(569.4 356.2)"><use href="#b3"/><text y="2.6">237</text></g>
<g id="n313" transform="translate(594.3 356.2)"><use href="#b3"/><text y="2.6">313</text></g>
<g id="n312" transform="translate(22.7 379.6)"><use href="#b3"/><text y="2.6">312</text></g>
<g id="n15" transform="translate(47.6 379.6)"><use href="#b2"/><text y="2.6">15</text></g>
<g id="n408" transform="translate(72.4 379.6)"><use href="#b3"/><text y="2.6">408</text></g>
<g id="n16" transform="translate(97.3 379.6)"><use href="#b2"/><text y="2.6">16</text></g>
<g id="n433" transform="translate(122.1 379.6)"><use href="#b3"/><text y="2.6">433</text></g>
<g id="n214" transform="translate(147 379.6)"><use href="#b3"/><text y="2.6">214</text></g>
<g id="n17" transform="translate(171.8 379.6)"><use href="#b2"/><text y="2.6">17</text></g>
<g id="n25" transform="translate(196.7 379.6)"><use href="#b2"/><text y="2.6">25</text></g>
<g id="n26" transform="translate(221.5 379.6)"><use href="#b2"/><text y="2.6">26</text></g>
<g id="n27" transform="translate(246.4 379.6)"><use href="#b2"/><text y="2.6">27</text></g>
<g id="n245" transform="translate(271.2 379.6)"><use href="#b3"/><text y="2.6">245</text></g>
<g id="n29" transform="translate(296.1 379.6)"><use href="#b2"/><text y="2.6">29</text></g>
<g id="n105" transform="translate(320.9 379.6)"><use href="#b3"/><text y="2.6">105</text></g>
<g id="n4" transform="translate(345.8 379.6)"><use href="#b1"/><text y="2.6">4</text></g>
<g id="n396" transform="translate(370.6 379.6)"><use href="#b3"/><text y="2.6">396</text></g>
<g id="n289" transform="translate(395.5 379.6)"><use href="#b3"/><text y="2.6">289</text></g>
<g id="n319" transform="translate(420.3 379.6)"><use href="#b3"/><text y="2.6">319</text></g>
<g id="n328" transform="translate(445.2 379.6)"><use href="#b3"/><text y="2.6">328</text></g>
<g id="n195" transform="translate(470 379.6)"><use href="#b3"/><text y="2.6">195</text></g>
<g id="n117" transform="translate(494.9 379.6)"><use href="#b3"/><text y="2.6">117</text></g>
<g id="n435" transform="translate(519.7 379.6)"><use href="#b3"/><text y="2.6">435</text></g>
<g id="n305" transform="translate(544.6 379.6)"><use href="#b3"/><text y="2.6">305</text></g>
<g id="n83" transform="translate(569.4 379.6)"><use href="#b2"/><text y="2.6">83</text></g>
<g id="n131" transform="translate(594.3 379.6)"><use href="#b3"/><text y="2.6">131</text></g>
<g id="n130" transform="translate(22.7 402.9)"><use href="#b3"/><text y="2.6">130</text></g>
<g id="n46" transform="translate(47.6 402.9)"><use href="#b2"/><text y="2.6">46</text></g>
<g id="n430" transform="translate(72.4 402.9)"><use href="#b3"/><text y="2.6">430</text></g>
<g id="n47" transform="translate(97.3 402.9)"><use href="#b2"/><text y="2.6">47</text></g>
<g id="n187" transform="translate(122.1 402.9)"><use href="#b3"/><text y="2.6">187</text></g>
<g id="n99" transform="translate(147 402.9)"><use href="#b2"/><text y="2.6">99</text></g>
<g id="n48" transform="translate(171.8 402.9)"><use href="#b2"/><text y="2.6">48</text></g>
<g id="n57" transform="translate(196.7 402.9)"><use href="#b2"/><text y="2.6">57</text></g>
<g id="n58" transform="translate(221.5 402.9)"><use href="#b2"/><text y="2.6">58</text></g>
<g id="n59" transform="translate(246.4 402.9)"><use href="#b2"/><text y="2.6">59</text></g>
<g id="n314" transform="translate(271.2 402.9)"><use href="#b3"/><text y="2.6">314</text></g>
<g id="n213" transform="translate(296.1 402.9)"><use href="#b3"/><text y="2.6">213</text></g>
<g id="n226" transform="translate(320.9 402.9)"><use href="#b3"/><text y="2.6">226</text></g>
<g id="n193" transform="translate(345.8 402.9)"><use href="#b3"/><text y="2.6">193</text></g>
<g id="n364" transform="translate(370.6 402.9)"><use href="#b3"/><text y="2.6">364</text></g>
<g id="n198" transform="translate(395.5 402.9)"><use href="#b3"/><text y="2.6">198</text></g>
<g id="n135" transform="translate(420.3 402.9)"><use href="#b3"/><text y="2.6">135</text></g>
<g id="n263" transform="translate(445.2 402.9)"><use href="#b3"/><text y="2.6">263</text></g>
<g id="n286" transform="translate(470 402.9)"><use href="#b3"/><text y="2.6">286</text></g>
<g id="n238" transform="translate(494.9 402.9)"><use href="#b3"/><text y="2.6">238</text></g>
<g id="n189" transform="translate(519.7 402.9)"><use href="#b3"/><text y="2.6">189</text></g>
<g id="n128" transform="translate(544.6 402.9)"><use href="#b3"/><text y="2.6">128</text></g>
<g id="n149" transform="translate(569.4 402.9)"><use href="#b3"/><text y="2.6">149</text></g>
<g id="n68" transform="translate(594.3 402.9)"><use href="#b2"/><text y="2.6">68</text></g>
<g id="n67" transform="translate(22.7 426.3)"><use href="#b2"/><text y="2.6">67</text></g>
<g id="n106" transform="translate(47.6 426.3)"><use href="#b3"/><text y="2.6">106</text></g>
<g id="n186" transform="translate(72.4 426.3)"><use href="#b3"/><text y="2.6">186</text></g>
<g id="n107" transform="translate(97.3 426.3)"><use href="#b3"/><text y="2.6">107</text></g>
<g id="n280" transform="translate(122.1 426.3)"><use href="#b3"/><text y="2.6">280</text></g>
<g id="n41" transform="translate(147 426.3)"><use href="#b2"/><text y="2.6">41</text></g>
<g id="n108" transform="translate(171.8 426.3)"><use href="#b3"/><text y="2.6">108</text></g>
<g id="n118" transform="translate(196.7 426.3)"><use href="#b3"/><text y="2.6">118</text></g>
<g id="n119" transform="translate(221.5 426.3)"><use href="#b3"/><text y="2.6">119</text></g>
<g id="n120" transform="translate(246.4 426.3)"><use href="#b3"/><text y="2.6">120</text></g>
<g id="n132" transform="translate(271.2 426.3)"><use href="#b3"/><text y="2.6">132</text></g>
<g id="n303" transform="translate(296.1 426.3)"><use href="#b3"/><text y="2.6">303</text></g>
<g id="n70" transform="translate(320.9 426.3)"><use href="#b2"/><text y="2.6">70</text></g>
<g id="n285" transform="translate(345.8 426.3)"><use href="#b3"/><text y="2.6">285</text></g>
<g id="n302" transform="translate(370.6 426.3)"><use href="#b3"/><text y="2.6">302</text></g>
<g id="n13" transform="translate(395.5 426.3)"><use href="#b2"/><text y="2.6">13</text></g>
<g id="n72" transform="translate(420.3 426.3)"><use href="#b2"/><text y="2.6">72</text></g>
<g id="n168" transform="translate(445.2 426.3)"><use href="#b3"/><text y="2.6">168</text></g>
<g id="n349" transform="translate(470 426.3)"><use href="#b3"/><text y="2.6">349</text></g>
<g id="n84" transform="translate(494.9 426.3)"><use href="#b2"/><text y="2.6">84</text></g>
<g id="n97" transform="translate(519.7 426.3)"><use href="#b2"/><text y="2.6">97</text></g>
<g id="n252" transform="translate(544.6 426.3)"><use href="#b3"/><text y="2.6">252</text></g>
<g id="n338" transform="translate(569.4 426.3)"><use href="#b3"/><text y="2.6">338</text></g>
<g id="n32" transform="translate(594.3 426.3)"><use href="#b2"/><text y="2.6">32</text></g>
<g id="n225" transform="translate(22.7 449.6)"><use href="#b3"/><text y="2.6">225</text></g>
<g id="n227" transform="translate(47.6 449.6)"><use href="#b3"/><text y="2.6">227</text></g>
<g id="n279" transform="translate(72.4 449.6)"><use href="#b3"/><text y="2.6">279</text></g>
<g id="n228" transform="translate(97.3 449.6)"><use href="#b3"/><text y="2.6">228</text></g>
<g id="n344" transform="translate(122.1 449.6)"><use href="#b3"/><text y="2.6">344</text></g>
<g id="n10" transform="translate(147 449.6)"><use href="#b2"/><text y="2.6">10</text></g>
<g id="n229" transform="translate(171.8 449.6)"><use href="#b3"/><text y="2.6">229</text></g>
<g id="n239" transform="translate(196.7 449.6)"><use href="#b3"/><text y="2.6">239</text></g>
<g id="n240" transform="translate(221.5 449.6)"><use href="#b3"/><text y="2.6">240</text></g>
<g id="n241" transform="translate(246.4 449.6)"><use href="#b3"/><text y="2.6">241</text></g>
<g id="n69" transform="translate(271.2 449.6)"><use href="#b2"/><text y="2.6">69</text></g>
<g id="n365" transform="translate(296.1 449.6)"><use href="#b3"/><text y="2.6">365</text></g>
<g id="n133" transform="translate(320.9 449.6)"><use href="#b3"/><text y="2.6">133</text></g>
<g id="n348" transform="translate(345.8 449.6)"><use href="#b3"/><text y="2.6">348</text></g>
<g id="n212" transform="translate(370.6 449.6)"><use href="#b3"/><text y="2.6">212</text></g>
<g id="n44" transform="translate(395.5 449.6)"><use href="#b2"/><text y="2.6">44</text></g>
<g id="n409" transform="translate(445.2 449.6)"><use href="#b3"/><text y="2.6">409</text></g>
<g id="n381" transform="translate(470 449.6)"><use href="#b3"/><text y="2.6">381</text></g>
<g id="n150" transform="translate(494.9 449.6)"><use href="#b3"/><text y="2.6">150</text></g>
<g id="n246" transform="translate(519.7 449.6)"><use href="#b3"/><text y="2.6">246</text></g>
<g id="n320" transform="translate(544.6 449.6)"><use href="#b3"/><text y="2.6">320</text></g>
<g id="n274" transform="translate(569.4 449.6)"><use href="#b3"/><text y="2.6">274</text></g>
<g id="n215" transform="translate(594.3 449.6)"><use href="#b3"/><text y="2.6">215</text></g>
<g id="n104" transform="translate(22.7 473)"><use href="#b3"/><text y="2.6">104</text></g>
<g id="n343" transform="translate(72.4 473)"><use href="#b3"/><text y="2.6">343</text></g>
<g id="n73" transform="translate(97.3 473)"><use href="#b2"/><text y="2.6">73</text></g>
<g id="n154" transform="translate(122.1 473)"><use href="#b3"/><text y="2.6">154</text></g>
<g id="n3" transform="translate(147 473)"><use href="#b1"/><text y="2.6">3</text></g>
<g id="n74" transform="translate(171.8 473)"><use href="#b2"/><text y="2.6">74</text></g>
<g id="n85" transform="translate(196.7 473)"><use href="#b2"/><text y="2.6">85</text></g>
<g id="n86" transform="translate(221.5 473)"><use href="#b2"/><text y="2.6">86</text></g>
<g id="n87" transform="translate(246.4 473)"><use href="#b2"/><text y="2.6">87</text></g>
<g id="n33" transform="translate(271.2 473)"><use href="#b2"/><text y="2.6">33</text></g>
<g id="n397" transform="translate(296.1 473)"><use href="#b3"/><text y="2.6">397</text></g>
<g id="n316" transform="translate(320.9 473)"><use href="#b3"/><text y="2.6">316</text></g>
<g id="n156" transform="translate(345.8 473)"><use href="#b3"/><text y="2.6">156</text></g>
<g id="n28" transform="translate(370.6 473)"><use href="#b2"/><text y="2.6">28</text></g>
<g id="n383" transform="translate(445.2 473)"><use href="#b3"/><text y="2.6">383</text></g>
<g id="n407" transform="translate(470 473)"><use href="#b3"/><text y="2.6">407</text></g>
<g id="n339" transform="translate(494.9 473)"><use href="#b3"/><text y="2.6">339</text></g>
<g id="n121" transform="translate(519.7 473)"><use href="#b3"/><text y="2.6">121</text></g>
<g id="n374" transform="translate(544.6 473)"><use href="#b3"/><text y="2.6">374</text></g>
<g id="n180" transform="translate(569.4 473)"><use href="#b3"/><text y="2.6">180</text></g>
<g id="n100" transform="translate(594.3 473)"><use href="#b3"/><text y="2.6">100</text></g>
<g id="n153" transform="translate(72.4 496.4)"><use href="#b3"/><text y="2.6">153</text></g>
<g id="n137" transform="translate(97.3 496.4)"><use href="#b3"/><text y="2.6">137</text></g>
<g id="n256" transform="translate(122.1 496.4)"><use href="#b3"/><text y="2.6">256</text></g>
<g id="n192" transform="translate(147 496.4)"><use href="#b3"/><text y="2.6">192</text></g>
<g id="n139" transform="translate(171.8 496.4)"><use href="#b3"/><text y="2.6">139</text></g>
<g id="n151" transform="translate(196.7 496.4)"><use href="#b3"/><text y="2.6">151</text></g>
<g id="n152" transform="translate(221.5 496.4)"><use href="#b3"/><text y="2.6">152</text></g>
<g id="n216" transform="translate(271.2 496.4)"><use href="#b3"/><text y="2.6">216</text></g>
<g id="n422" transform="translate(296.1 496.4)"><use href="#b3"/><text y="2.6">422</text></g>
<g id="n248" transform="translate(320.9 496.4)"><use href="#b3"/><text y="2.6">248</text></g>
<g id="n88" transform="translate(345.8 496.4)"><use href="#b2"/><text y="2.6">88</text></g>
<g id="n60" transform="translate(370.6 496.4)"><use href="#b2"/><text y="2.6">60</text></g>
<g id="n351" transform="translate(445.2 496.4)"><use href="#b3"/><text y="2.6">351</text></g>
<g id="n429" transform="translate(470 496.4)"><use href="#b3"/><text y="2.6">429</text></g>
<g id="n275" transform="translate(494.9 496.4)"><use href="#b3"/><text y="2.6">275</text></g>
<g id="n160" transform="translate(544.6 496.4)"><use href="#b3"/><text y="2.6">160</text></g>
<g id="n42" transform="translate(594.3 496.4)"><use href="#b2"/><text y="2.6">42</text></g>
<g id="n325" transform="translate(97.3 519.7)"><use href="#b3"/><text y="2.6">325</text></g>
<g id="n322" transform="translate(122.1 519.7)"><use href="#b3"/><text y="2.6">322</text></g>
<g id="n284" transform="translate(147 519.7)"><use href="#b3"/><text y="2.6">284</text></g>
<g id="n327" transform="translate(171.8 519.7)"><use href="#b3"/><text y="2.6">327</text></g>
<g id="n340" transform="translate(196.7 519.7)"><use href="#b3"/><text y="2.6">340</text></g>
<g id="n341" transform="translate(221.5 519.7)"><use href="#b3"/><text y="2.6">341</text></g>
<g id="n101" transform="translate(271.2 519.7)"><use href="#b3"/><text y="2.6">101</text></g>
<g id="n36" transform="translate(345.8 519.7)"><use href="#b2"/><text y="2.6">36</text></g>
<g id="n288" transform="translate(445.2 519.7)"><use href="#b3"/><text y="2.6">288</text></g>
<g id="n185" transform="translate(470 519.7)"><use href="#b3"/><text y="2.6">185</text></g>
<g id="n181" transform="translate(494.9 519.7)"><use href="#b3"/><text y="2.6">181</text></g>
<g id="n91" transform="translate(544.6 519.7)"><use href="#b2"/><text y="2.6">91</text></g>
<g id="n11" transform="translate(594.3 519.7)"><use href="#b2"/><text y="2.6">11</text></g>
<g id="n259" transform="translate(97.3 543.1)"><use href="#b3"/><text y="2.6">259</text></g>
<g id="n376" transform="translate(122.1 543.1)"><use href="#b3"/><text y="2.6">376</text></g>
<g id="n347" transform="translate(147 543.1)"><use href="#b3"/><text y="2.6">347</text></g>
<g id="n262" transform="translate(171.8 543.1)"><use href="#b3"/><text y="2.6">262</text></g>
<g id="n276" transform="translate(196.7 543.1)"><use href="#b3"/><text y="2.6">276</text></g>
<g id="n277" transform="translate(221.5 543.1)"><use href="#b3"/><text y="2.6">277</text></g>
<g id="n218" transform="translate(345.8 543.1)"><use href="#b3"/><text y="2.6">218</text></g>
<g id="n197" transform="translate(445.2 543.1)"><use href="#b3"/><text y="2.6">197</text></g>
<g id="n278" transform="translate(470 543.1)"><use href="#b3"/><text y="2.6">278</text></g>
<g id="n423" transform="translate(494.9 543.1)"><use href="#b3"/><text y="2.6">423</text></g>
<g id="n242" transform="translate(544.6 543.1)"><use href="#b3"/><text y="2.6">242</text></g>
<g id="n162" transform="translate(97.3 566.4)"><use href="#b3"/><text y="2.6">162</text></g>
<g id="n380" transform="translate(147 566.4)"><use href="#b3"/><text y="2.6">380</text></g>
<g id="n167" transform="translate(171.8 566.4)"><use href="#b3"/><text y="2.6">167</text></g>
<g id="n182" transform="translate(196.7 566.4)"><use href="#b3"/><text y="2.6">182</text></g>
<g id="n184" transform="translate(221.5 566.4)"><use href="#b3"/><text y="2.6">184</text></g>
<g id="n304" transform="translate(345.8 566.4)"><use href="#b3"/><text y="2.6">304</text></g>
<g id="n342" transform="translate(470 566.4)"><use href="#b3"/><text y="2.6">342</text></g>
<g id="n398" transform="translate(494.9 566.4)"><use href="#b3"/><text y="2.6">398</text></g>
<g id="n311" transform="translate(544.6 566.4)"><use href="#b3"/><text y="2.6">311</text></g>
<g id="n406" transform="translate(147 589.8)"><use href="#b3"/><text y="2.6">406</text></g>
<g id="n425" transform="translate(196.7 589.8)"><use href="#b3"/><text y="2.6">425</text></g>
<g id="n428" transform="translate(221.5 589.8)"><use href="#b3"/><text y="2.6">428</text></g>
<g id="n366" transform="translate(345.8 589.8)"><use href="#b3"/><text y="2.6">366</text></g>
<g id="n378" transform="translate(470 589.8)"><use href="#b3"/><text y="2.6">378</text></g>
<g id="n371" transform="translate(544.6 589.8)"><use href="#b3"/><text y="2.6">371</text></g>
<g id="n402" transform="translate(196.7 613.2)"><use href="#b3"/><text y="2.6">402</text></g>
<g id="n405" transform="translate(221.5 613.2)"><use href="#b3"/><text y="2.6">405</text></g>
</g>
</svg>
